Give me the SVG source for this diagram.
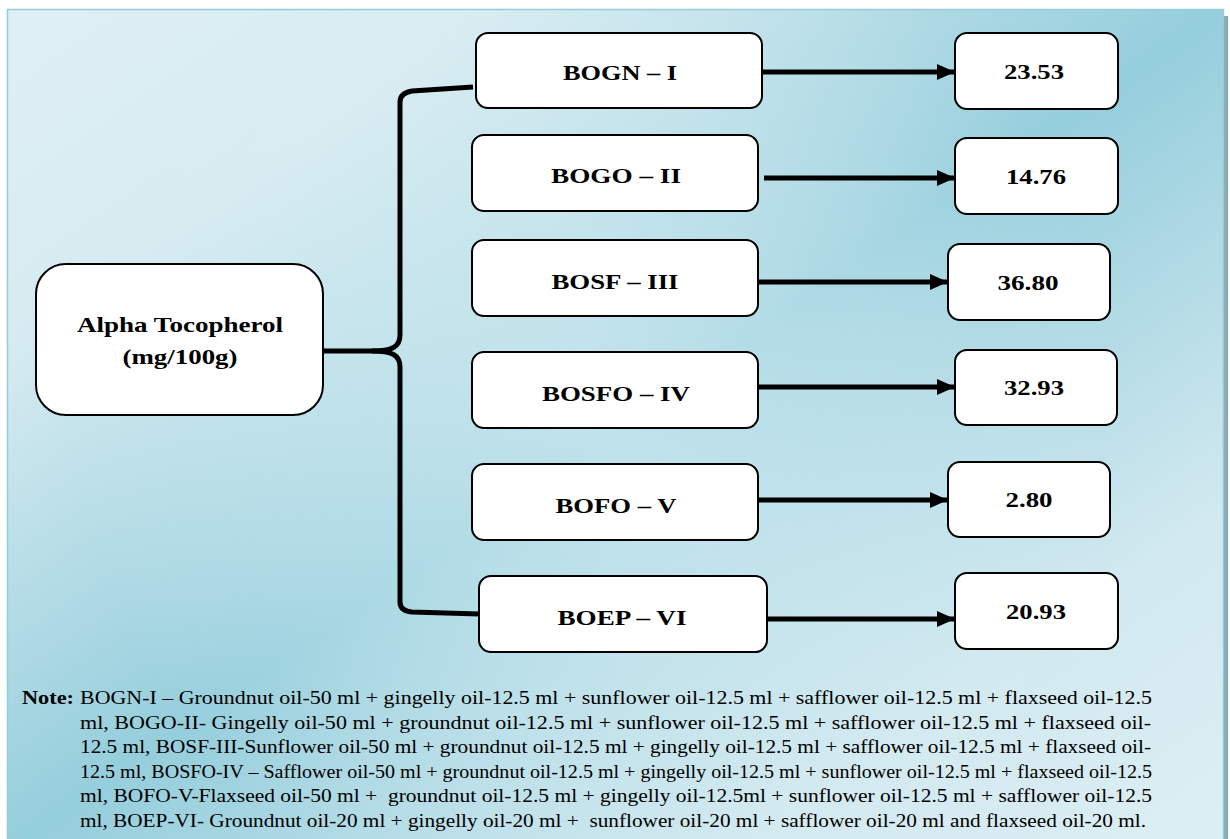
<svg xmlns="http://www.w3.org/2000/svg" width="1230" height="839" viewBox="0 0 1230 839">
<style>
.box{fill:#fff;stroke:#000;stroke-width:2}
.lbl{font-family:"Liberation Serif","Times New Roman",serif;font-weight:bold;font-size:22px;fill:#000;text-anchor:middle}
.note{font-family:"Liberation Serif","Times New Roman",serif;font-size:19px;fill:#000}
.conn{fill:none;stroke:#000;stroke-width:5}
</style>
<defs>
<linearGradient id="bg" x1="0" y1="0" x2="1" y2="1">
<stop offset="0" stop-color="#dff0f5"/>
<stop offset="0.2" stop-color="#d6ebf1"/>
<stop offset="0.5" stop-color="#95cedc"/>
<stop offset="0.8" stop-color="#d2e9f0"/>
<stop offset="1" stop-color="#dcEff4"/>
</linearGradient>
<radialGradient id="glow" gradientUnits="userSpaceOnUse" cx="600" cy="420" r="520">
<stop offset="0" stop-color="#e4f3f7" stop-opacity="0.55"/>
<stop offset="0.6" stop-color="#e4f3f7" stop-opacity="0.25"/>
<stop offset="1" stop-color="#e4f3f7" stop-opacity="0"/>
</radialGradient>
<marker id="ah" markerUnits="userSpaceOnUse" markerWidth="18" markerHeight="16" refX="18" refY="8" orient="auto">
<path d="M0,0 L18,8 L0,16 Z" fill="#000"/>
</marker>
</defs>
<rect x="0" y="0" width="1230" height="839" fill="#fff"/>
<rect x="1224" y="16" width="4" height="830" fill="#8ea8b3"/>
<rect x="7.5" y="9.5" width="1216" height="840" fill="url(#bg)" stroke="#93cddb" stroke-width="1.5"/>
<rect x="8" y="10" width="1215" height="829" fill="url(#glow)"/>

<g id="connectors">
<path class="conn" d="M323,351 L372,351 C392,351 400,347 400,335 L400,102 Q400,93 412,91 L473,87"/>
<path class="conn" d="M372,351 C392,351 400,355 400,367 L400,602 Q400,611 412,612 L479,614"/>
<line class="conn" x1="762" y1="72" x2="955" y2="72" marker-end="url(#ah)"/>
<line class="conn" x1="764" y1="178" x2="955" y2="178" marker-end="url(#ah)"/>
<line class="conn" x1="758" y1="282" x2="948" y2="282" marker-end="url(#ah)"/>
<line class="conn" x1="758" y1="387" x2="955" y2="387" marker-end="url(#ah)"/>
<line class="conn" x1="758" y1="500" x2="948" y2="500" marker-end="url(#ah)"/>
<line class="conn" x1="767" y1="619" x2="955" y2="619" marker-end="url(#ah)"/>
</g>

<g id="alpha">
<rect class="box" x="36" y="264" width="287" height="151" rx="30"/>
<text class="lbl" x="180" y="332" textLength="206" lengthAdjust="spacingAndGlyphs">Alpha Tocopherol</text>
<text class="lbl" x="180" y="364" textLength="115" lengthAdjust="spacingAndGlyphs">(mg/100g)</text>
</g>

<g id="bogn">
<rect class="box" x="476" y="33" width="286" height="75" rx="12"/>
<text class="lbl" x="620" y="80" textLength="114" lengthAdjust="spacingAndGlyphs">BOGN – I</text>
</g>
<g id="bogo">
<rect class="box" x="472" y="135" width="286" height="76" rx="12"/>
<text class="lbl" x="616" y="183" textLength="130" lengthAdjust="spacingAndGlyphs">BOGO – II</text>
</g>
<g id="bosf">
<rect class="box" x="472" y="240" width="286" height="76" rx="12"/>
<text class="lbl" x="615" y="289" textLength="127" lengthAdjust="spacingAndGlyphs">BOSF – III</text>
</g>
<g id="bosfo">
<rect class="box" x="472" y="352" width="286" height="76" rx="12"/>
<text class="lbl" x="616" y="401" textLength="148" lengthAdjust="spacingAndGlyphs">BOSFO – IV</text>
</g>
<g id="bofo">
<rect class="box" x="472" y="464" width="286" height="76" rx="12"/>
<text class="lbl" x="616" y="513" textLength="121" lengthAdjust="spacingAndGlyphs">BOFO – V</text>
</g>
<g id="boep">
<rect class="box" x="479" y="576" width="288" height="76" rx="12"/>
<text class="lbl" x="622" y="625" textLength="129" lengthAdjust="spacingAndGlyphs">BOEP – VI</text>
</g>

<g id="v1">
<rect class="box" x="955" y="33" width="163" height="76" rx="12"/>
<text class="lbl" x="1034" y="79" textLength="60" lengthAdjust="spacingAndGlyphs">23.53</text>
</g>
<g id="v2">
<rect class="box" x="955" y="138" width="163" height="76" rx="12"/>
<text class="lbl" x="1036" y="184" textLength="60" lengthAdjust="spacingAndGlyphs">14.76</text>
</g>
<g id="v3">
<rect class="box" x="948" y="244" width="162" height="76" rx="12"/>
<text class="lbl" x="1028" y="290" textLength="61" lengthAdjust="spacingAndGlyphs">36.80</text>
</g>
<g id="v4">
<rect class="box" x="955" y="350" width="162" height="75" rx="12"/>
<text class="lbl" x="1034" y="395" textLength="60" lengthAdjust="spacingAndGlyphs">32.93</text>
</g>
<g id="v5">
<rect class="box" x="948" y="462" width="162" height="75" rx="12"/>
<text class="lbl" x="1029" y="507" textLength="47" lengthAdjust="spacingAndGlyphs">2.80</text>
</g>
<g id="v6">
<rect class="box" x="955" y="573" width="163" height="76" rx="12"/>
<text class="lbl" x="1036" y="619" textLength="60" lengthAdjust="spacingAndGlyphs">20.93</text>
</g>

<g id="note">
<text class="note" x="22" y="704" font-weight="bold" textLength="52" lengthAdjust="spacingAndGlyphs">Note:</text>
<text class="note" x="80" y="704" textLength="1072" lengthAdjust="spacingAndGlyphs">BOGN-I – Groundnut oil-50 ml + gingelly oil-12.5 ml + sunflower oil-12.5 ml + safflower oil-12.5 ml + flaxseed oil-12.5</text>
<text class="note" x="80" y="729" textLength="1071" lengthAdjust="spacingAndGlyphs">ml, BOGO-II- Gingelly oil-50 ml + groundnut oil-12.5 ml + sunflower oil-12.5 ml + safflower oil-12.5 ml + flaxseed oil-</text>
<text class="note" x="80" y="753" textLength="1071" lengthAdjust="spacingAndGlyphs">12.5 ml, BOSF-III-Sunflower oil-50 ml + groundnut oil-12.5 ml + gingelly oil-12.5 ml + safflower oil-12.5 ml + flaxseed oil-</text>
<text class="note" x="80" y="778" textLength="1072" lengthAdjust="spacingAndGlyphs">12.5 ml, BOSFO-IV – Safflower oil-50 ml + groundnut oil-12.5 ml + gingelly oil-12.5 ml + sunflower oil-12.5 ml + flaxseed oil-12.5</text>
<text class="note" x="80" y="802" textLength="1072" lengthAdjust="spacingAndGlyphs" xml:space="preserve">ml, BOFO-V-Flaxseed oil-50 ml +  groundnut oil-12.5 ml + gingelly oil-12.5ml + sunflower oil-12.5 ml + safflower oil-12.5</text>
<text class="note" x="80" y="827" textLength="1066" lengthAdjust="spacingAndGlyphs" xml:space="preserve">ml, BOEP-VI- Groundnut oil-20 ml + gingelly oil-20 ml +  sunflower oil-20 ml + safflower oil-20 ml and flaxseed oil-20 ml.</text>
</g>
</svg>
